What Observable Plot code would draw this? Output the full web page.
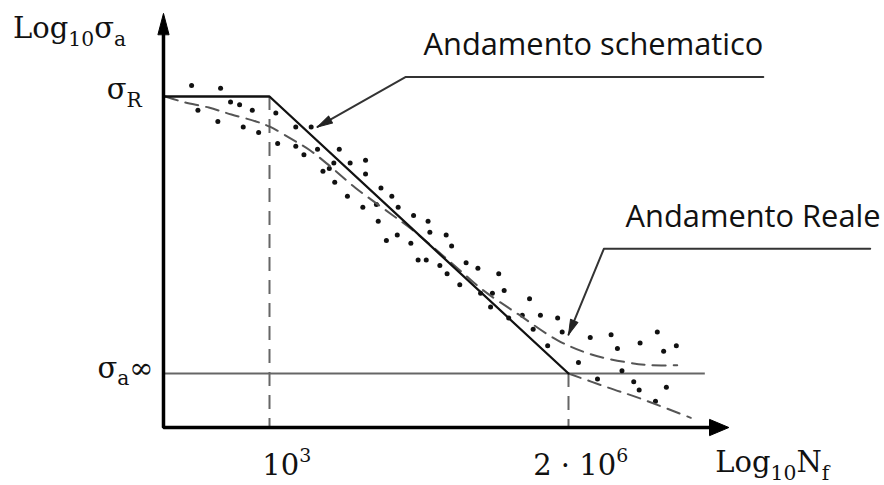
<!DOCTYPE html>
<html>
<head>
<meta charset="utf-8">
<script src="https://cdn.jsdelivr.net/npm/d3@7"></script>
<script src="https://cdn.jsdelivr.net/npm/@observablehq/plot@0.6"></script>
<style>
  body { margin: 0; background: #fff; }
  #chart svg { display: block; }
</style>
</head>
<body>
<div id="chart"></div>
<script>
// Wöhler (S–N) diagram: bilinear schematic law versus scattered fatigue results.
// x = log10 of cycles to failure, y = log10 of stress amplitude, normalised so
// that σa∞ sits at 0 and σR at 1.

// Test results (scatter)
const dotLogN = [2.14, 2.46, 2.57, 2.67, 2.81, 2.21, 2.43, 2.71, 2.88, 3.07,
  3.29, 3.46, 3.09, 3.29, 3.38, 3.53, 3.77, 3.71, 3.89, 4.06,
  3.59, 3.66, 3.72, 4.06, 4.23, 4.35, 3.86, 4.03, 4.18, 4.42,
  4.20, 4.41, 4.29, 4.59, 4.75, 4.77, 4.56, 4.95, 5.01, 4.64,
  4.73, 4.88, 4.96, 5.17, 5.30, 5.10, 5.53, 5.59, 5.33, 5.46,
  5.44, 5.87, 5.64, 5.79, 5.99, 6.18, 5.91, 6.23, 6.07, 6.54,
  6.77, 7.28, 7.09, 6.84, 7.35, 7.49, 6.41, 6.89, 6.62, 7.02,
  7.08, 7.38, 7.26];
const dotLogS = [1.04, 1.03, 0.98, 0.97, 0.95, 0.95, 0.91, 0.89, 0.87, 0.94,
  0.89, 0.89, 0.83, 0.82, 0.79, 0.81, 0.81, 0.76, 0.76, 0.77,
  0.73, 0.74, 0.69, 0.72, 0.67, 0.64, 0.64, 0.60, 0.61, 0.60,
  0.55, 0.50, 0.48, 0.57, 0.55, 0.51, 0.47, 0.50, 0.46, 0.41,
  0.41, 0.39, 0.36, 0.40, 0.38, 0.32, 0.36, 0.30, 0.29, 0.29,
  0.24, 0.27, 0.20, 0.21, 0.21, 0.20, 0.16, 0.15, 0.10, 0.13,
  0.14, 0.15, 0.11, 0.09, 0.08, 0.10, 0.04, 0.01, -0.02, -0.03,
  -0.06, -0.05, -0.10];

// Real trend (dashed), upper branch levelling off towards σa∞
const realLogN = [1.85, 2.05, 2.33, 2.58, 2.85, 3.01, 3.25, 3.45, 3.68, 3.95,
  4.26, 4.59, 5.11, 5.36, 5.74, 6.18, 6.54, 6.95, 7.21, 7.50];
const realLogS = [1.00, 0.98, 0.96, 0.935, 0.91, 0.89, 0.845, 0.805, 0.745, 0.67,
  0.595, 0.515, 0.37, 0.30, 0.215, 0.12, 0.07, 0.04, 0.03, 0.03];

// Real trend, lower branch continuing below the fatigue limit
const tailLogN = [6.30, 6.73, 7.09, 7.65];
const tailLogS = [0, -0.05, -0.09, -0.16];

// Schematic law: plateau at σR up to 10^3 cycles, straight line down to σa∞ at 2·10^6
const schemeLogN = [1.83, 3, 6.3];
const schemeLogS = [1, 1, 0];

// Knee points on the N axis
const kneeLogN = [3, 6.3];
const kneeLogS = [1, 0];
const kneeLabels = ["10^{3}", "2 · 10^{6}"];

// Stress levels on the σ axis
const levelLogS = [1, 0];
const levelLabels = ["σ_{R}", "σ_{a}∞"];

// Frame of the diagram
const originLogN = 1.83, originLogS = -0.195;
const axisEndLogN = 8.07, axisEndLogS = 1.30;
const limitEndLogN = 7.81;

// Callouts: [x, y] vertices, last one is the arrow tip
const calloutScheme = [[8.45, 1.07], [4.50, 1.07], [3.53, 0.89]];
const calloutReal = [[9.63, 0.45], [6.69, 0.45], [6.30, 0.14]];

const xScale = {domain: [3, 6.3], range: [269, 568]};
const yScale = {domain: [0, 1], range: [373, 96]};
const sx = d3.scaleLinear(xScale.domain, xScale.range);
const sy = d3.scaleLinear(yScale.domain, yScale.range);
// screen heading (degrees clockwise from up) of the segment a → b
const heading = (a, b) => Math.atan2(sx(b[0]) - sx(a[0]), sy(a[1]) - sy(b[1])) * 180 / Math.PI;

// filled arrowhead drawn with its tip at the anchor point
const wedge = {
  draw(ctx, l, r) {
    ctx.moveTo(-r, 0);
    ctx.lineTo(0, -l);
    ctx.lineTo(r, 0);
    ctx.closePath();
  }
};

const dots = dotLogN.map((n, i) => ({n, s: dotLogS[i]}));
const real = realLogN.map((n, i) => ({n, s: realLogS[i]}));
const tail = tailLogN.map((n, i) => ({n, s: tailLogS[i]}));
const scheme = schemeLogN.map((n, i) => ({n, s: schemeLogS[i]}));
const knees = kneeLogN.map((n, i) => ({n, s: kneeLogS[i], label: kneeLabels[i]}));
const levels = levelLogS.map((s, i) => ({s, label: levelLabels[i]}));

const serif = {fontFamily: "'DejaVu Serif', serif", fontSize: 29, fill: "#111", lineAnchor: "bottom"};
const sans = {fontFamily: "'Open Sans', sans-serif", fontSize: 30.8, fill: "#111", lineAnchor: "bottom", textAnchor: "start"};

function callout(pts) {
  const tip = pts[pts.length - 1], prev = pts[pts.length - 2];
  return [
    Plot.line(pts, {x: "0", y: "1", stroke: "#333", strokeWidth: 2}),
    Plot.vector([tip], {x: "0", y: "1", length: 15, r: 4, rotate: heading(prev, tip),
      anchor: "end", shape: wedge, fill: "#222", stroke: "#222", strokeWidth: 1})
  ];
}

const chart = Plot.plot({
  width: 884,
  height: 485,
  margin: 0,
  x: {...xScale, axis: null},
  y: {...yScale, axis: null},
  style: {background: "#fff", overflow: "visible"},
  marks: [
    // dashed guides from the knees down to the N axis
    Plot.ruleX(knees, {x: "n", y1: "s", y2: originLogS, stroke: "#666", strokeWidth: 2, strokeDasharray: "14,9"}),
    // fatigue limit
    Plot.ruleY([0], {x1: originLogN, x2: limitEndLogN, stroke: "#666", strokeWidth: 2}),
    // scatter of test results
    Plot.dot(dots, {x: "n", y: "s", r: 2.5, fill: "#111", stroke: "none"}),
    // real trend
    Plot.line(real, {x: "n", y: "s", curve: "catmull-rom", stroke: "#555", strokeWidth: 2, strokeDasharray: "13,8"}),
    Plot.line(tail, {x: "n", y: "s", curve: "catmull-rom", stroke: "#555", strokeWidth: 2, strokeDasharray: "13,8"}),
    // schematic law
    Plot.line(scheme, {x: "n", y: "s", stroke: "#111", strokeWidth: 2.3}),
    // axes
    Plot.line([[originLogN, axisEndLogS - 0.05], [originLogN, originLogS], [axisEndLogN - 0.15, originLogS]],
      {x: "0", y: "1", stroke: "#000", strokeWidth: 3.5, strokeLinejoin: "miter"}),
    Plot.vector([[originLogN, axisEndLogS]], {x: "0", y: "1", length: 21, r: 5.5, rotate: 0,
      anchor: "end", shape: wedge, fill: "#000", stroke: "#000", strokeWidth: 1}),
    Plot.vector([[axisEndLogN, originLogS]], {x: "0", y: "1", length: 19, r: 8, rotate: 90,
      anchor: "end", shape: wedge, fill: "#000", stroke: "#000", strokeWidth: 1}),
    // callouts
    ...callout(calloutScheme),
    ...callout(calloutReal),
    Plot.text(["Andamento schematico"], {x: 4.70, y: 1.15, text: d => d, ...sans}),
    Plot.text(["Andamento Reale"], {x: 6.93, y: 0.53, text: d => d, ...sans}),
    // axis titles and tick labels
    Plot.text(["Log_{10}σ_{a}"], {x: 0.17, y: 1.21, text: d => d, textAnchor: "start", ...serif}),
    Plot.text(["Log_{10}N_{f}"], {x: 7.92, y: -0.357, text: d => d, textAnchor: "start", ...serif}),
    Plot.text(levels, {x: [1.59, 1.72], y: (d) => d.s + (d.s ? -0.01 : -0.015), text: "label", textAnchor: "end", ...serif}),
    Plot.text(knees, {x: (d) => d.n - (d.n === 3 ? 0.08 : 0.39), y: -0.365, text: "label", textAnchor: "start", ...serif})
  ]
});

document.getElementById("chart").append(chart);

// turn "_{…}" and "^{…}" into subscript / superscript tspans
chart.querySelectorAll("text").forEach((t) => {
  const s = t.textContent;
  if (!/[_^]\{/.test(s)) return;
  const base = parseFloat(getComputedStyle(t).fontSize) || 29;
  t.textContent = "";
  const re = /([_^])\{([^}]*)\}|([^_^]+)/g;
  let m, shift = 0;
  while ((m = re.exec(s))) {
    const ts = document.createElementNS("http://www.w3.org/2000/svg", "tspan");
    let target = 0;
    if (m[1]) {
      target = m[1] === "_" ? base * 0.26 : -base * 0.42;
      ts.setAttribute("font-size", (base * (m[1] === "_" ? 0.7 : 0.65)).toFixed(1));
      ts.textContent = m[2];
    } else {
      ts.textContent = m[3];
    }
    ts.setAttribute("dy", (target - shift).toFixed(1));
    shift = target;
    t.appendChild(ts);
  }
});
</script>
</body>
</html>
